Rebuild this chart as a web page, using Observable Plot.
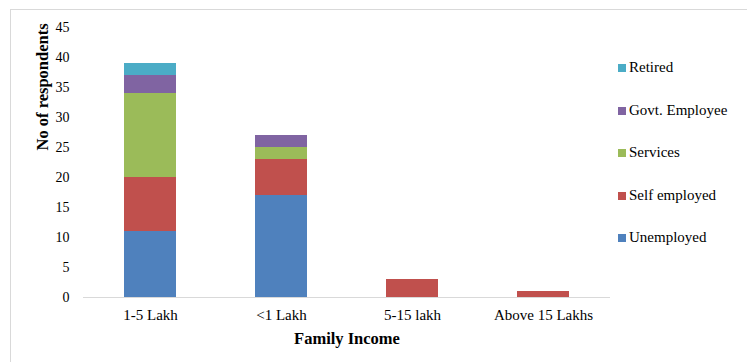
<!DOCTYPE html>
<html>
<head>
<meta charset="utf-8">
<script src="https://cdn.jsdelivr.net/npm/d3@7"></script>
<script src="https://cdn.jsdelivr.net/npm/@observablehq/plot@0.6"></script>
<style>
  html, body { margin: 0; padding: 0; background: #fff; overflow: hidden; }
  #wrap { position: relative; width: 747px; height: 362px; font-family: "Liberation Serif", "Times New Roman", serif; }
  #frame { position: absolute; left: 10px; top: 9px; width: 760px; height: 380px; border: 1px solid #d9d9d9; box-sizing: border-box; pointer-events: none; }
  #legend { position: absolute; left: 618px; top: 59px; font-size: 15px; color: #000; }
  .item { position: absolute; left: 0; height: 16px; line-height: 16px; white-space: nowrap; }
  .sw { display: inline-block; width: 8px; height: 8px; margin-right: 3px; vertical-align: 0px; }
</style>
</head>
<body>
<div id="wrap">
  <div id="chart"></div>
  <div id="legend"></div>
  <div id="frame"></div>
</div>
<script>
// Family income categories (x axis)
const incomes = ["1-5 Lakh", "<1 Lakh", "5-15 lakh", "Above 15 Lakhs"];
// Occupation groups, bottom to top of each stack
const occupations = ["Unemployed", "Self employed", "Services", "Govt. Employee", "Retired"];
const colors = ["#4F81BD", "#C0504D", "#9BBB59", "#8064A2", "#4BACC6"];

// Respondent counts per income group
const unemployed   = [11, 17, 0, 0];
const selfEmployed = [9, 6, 3, 1];
const services     = [14, 2, 0, 0];
const govtEmployee = [3, 2, 0, 0];
const retired      = [2, 0, 0, 0];

const yTicks = [0, 5, 10, 15, 20, 25, 30, 35, 40, 45];

const series = [unemployed, selfEmployed, services, govtEmployee, retired];
const rows = [];
occupations.forEach((occ, i) => {
  incomes.forEach((inc, j) => {
    rows.push({income: inc, occupation: occ, count: series[i][j]});
  });
});

const chart = Plot.plot({
  width: 747,
  height: 362,
  marginLeft: 83,
  marginRight: 137,
  marginTop: 27,
  marginBottom: 65,
  style: {fontFamily: "'Liberation Serif', 'Times New Roman', serif", fontSize: "13px", color: "#000", background: "#fff"},
  x: {domain: incomes, paddingInner: 0.6, paddingOuter: 0.3, label: null},
  y: {domain: [0, 45], label: null},
  color: {domain: occupations, range: colors},
  marks: [
    Plot.ruleY([0], {stroke: "#d9d9d9", strokeWidth: 1.2}),
    Plot.barY(rows, Plot.stackY({
      x: "income",
      y: "count",
      z: "occupation",
      fill: "occupation",
      order: occupations
    })),
    Plot.axisY({ticks: yTicks, tickSize: 0, tickPadding: 14, fontSize: 14, label: null}),
    Plot.axisX({tickSize: 0, tickPadding: 12, fontSize: 15, label: null}),
    Plot.text(["No of respondents"], {
      frameAnchor: "left", dx: -41, rotate: -90, dy: -12,
      fontSize: 16.5, fontWeight: "bold"
    }),
    Plot.text(["Family Income"], {
      frameAnchor: "bottom", dy: 46,
      fontSize: 16.5, fontWeight: "bold"
    })
  ]
});
document.getElementById("chart").appendChild(chart);

// Legend, top entry is the top of the stack
const legend = document.getElementById("legend");
occupations.slice().reverse().forEach((occ, k) => {
  const idx = occupations.indexOf(occ);
  const div = document.createElement("div");
  div.className = "item";
  div.style.top = (k * 42.5) + "px";
  div.innerHTML = `<span class="sw" style="background:${colors[idx]}"></span>${occ}`;
  legend.appendChild(div);
});
</script>
</body>
</html>
